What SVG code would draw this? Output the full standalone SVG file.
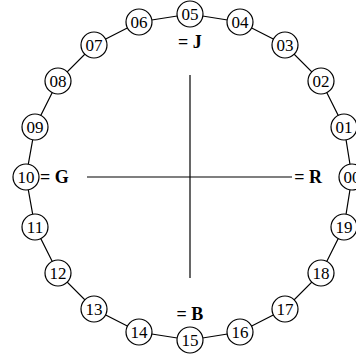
<svg xmlns="http://www.w3.org/2000/svg" width="356" height="355" viewBox="0 0 356 355">
<style>
.n circle{fill:#fff;stroke:#000;stroke-width:1.2}
.n text{font-family:"Liberation Serif",serif;font-size:17px;text-anchor:middle;dominant-baseline:central}
.lbl{font-family:"Liberation Serif",serif;font-size:18px;font-weight:bold}
.c{stroke:#000;stroke-width:1.2;fill:none}
</style>
<rect width="356" height="355" fill="#fff"/>
<g id="connectors" class="c">
<polygon points="352,177 344,127 321,81 285,45 240,22 190,14 139,22 94,45 58,81 35,127 26,177 35,227 58,273 94,309 139,332 190,340 240,332 285,309 321,273 344,227"/>
<line x1="87" y1="177" x2="292" y2="177"/>
<line x1="190" y1="75" x2="190" y2="278"/>
</g>
<g id="n00" class="n"><circle cx="352" cy="177" r="13"/><text x="352" y="177">00</text></g>
<g id="n01" class="n"><circle cx="344" cy="127" r="13"/><text x="344" y="127">01</text></g>
<g id="n02" class="n"><circle cx="321" cy="81" r="13"/><text x="321" y="81">02</text></g>
<g id="n03" class="n"><circle cx="285" cy="45" r="13"/><text x="285" y="45">03</text></g>
<g id="n04" class="n"><circle cx="240" cy="22" r="13"/><text x="240" y="22">04</text></g>
<g id="n05" class="n"><circle cx="190" cy="14" r="13"/><text x="190" y="14">05</text></g>
<g id="n06" class="n"><circle cx="139" cy="22" r="13"/><text x="139" y="22">06</text></g>
<g id="n07" class="n"><circle cx="94" cy="45" r="13"/><text x="94" y="45">07</text></g>
<g id="n08" class="n"><circle cx="58" cy="81" r="13"/><text x="58" y="81">08</text></g>
<g id="n09" class="n"><circle cx="35" cy="127" r="13"/><text x="35" y="127">09</text></g>
<g id="n10" class="n"><circle cx="26" cy="177" r="13"/><text x="26" y="177">10</text></g>
<g id="n11" class="n"><circle cx="35" cy="227" r="13"/><text x="35" y="227">11</text></g>
<g id="n12" class="n"><circle cx="58" cy="273" r="13"/><text x="58" y="273">12</text></g>
<g id="n13" class="n"><circle cx="94" cy="309" r="13"/><text x="94" y="309">13</text></g>
<g id="n14" class="n"><circle cx="139" cy="332" r="13"/><text x="139" y="332">14</text></g>
<g id="n15" class="n"><circle cx="190" cy="340" r="13"/><text x="190" y="340">15</text></g>
<g id="n16" class="n"><circle cx="240" cy="332" r="13"/><text x="240" y="332">16</text></g>
<g id="n17" class="n"><circle cx="285" cy="309" r="13"/><text x="285" y="309">17</text></g>
<g id="n18" class="n"><circle cx="321" cy="273" r="13"/><text x="321" y="273">18</text></g>
<g id="n19" class="n"><circle cx="344" cy="227" r="13"/><text x="344" y="227">19</text></g>
<g id="labels">
<text class="lbl" x="190" y="48" text-anchor="middle">= J</text>
<text class="lbl" x="190" y="320" text-anchor="middle">= B</text>
<text class="lbl" x="40" y="183">= G</text>
<text class="lbl" x="322" y="183" text-anchor="end">= R</text>
</g>
</svg>
